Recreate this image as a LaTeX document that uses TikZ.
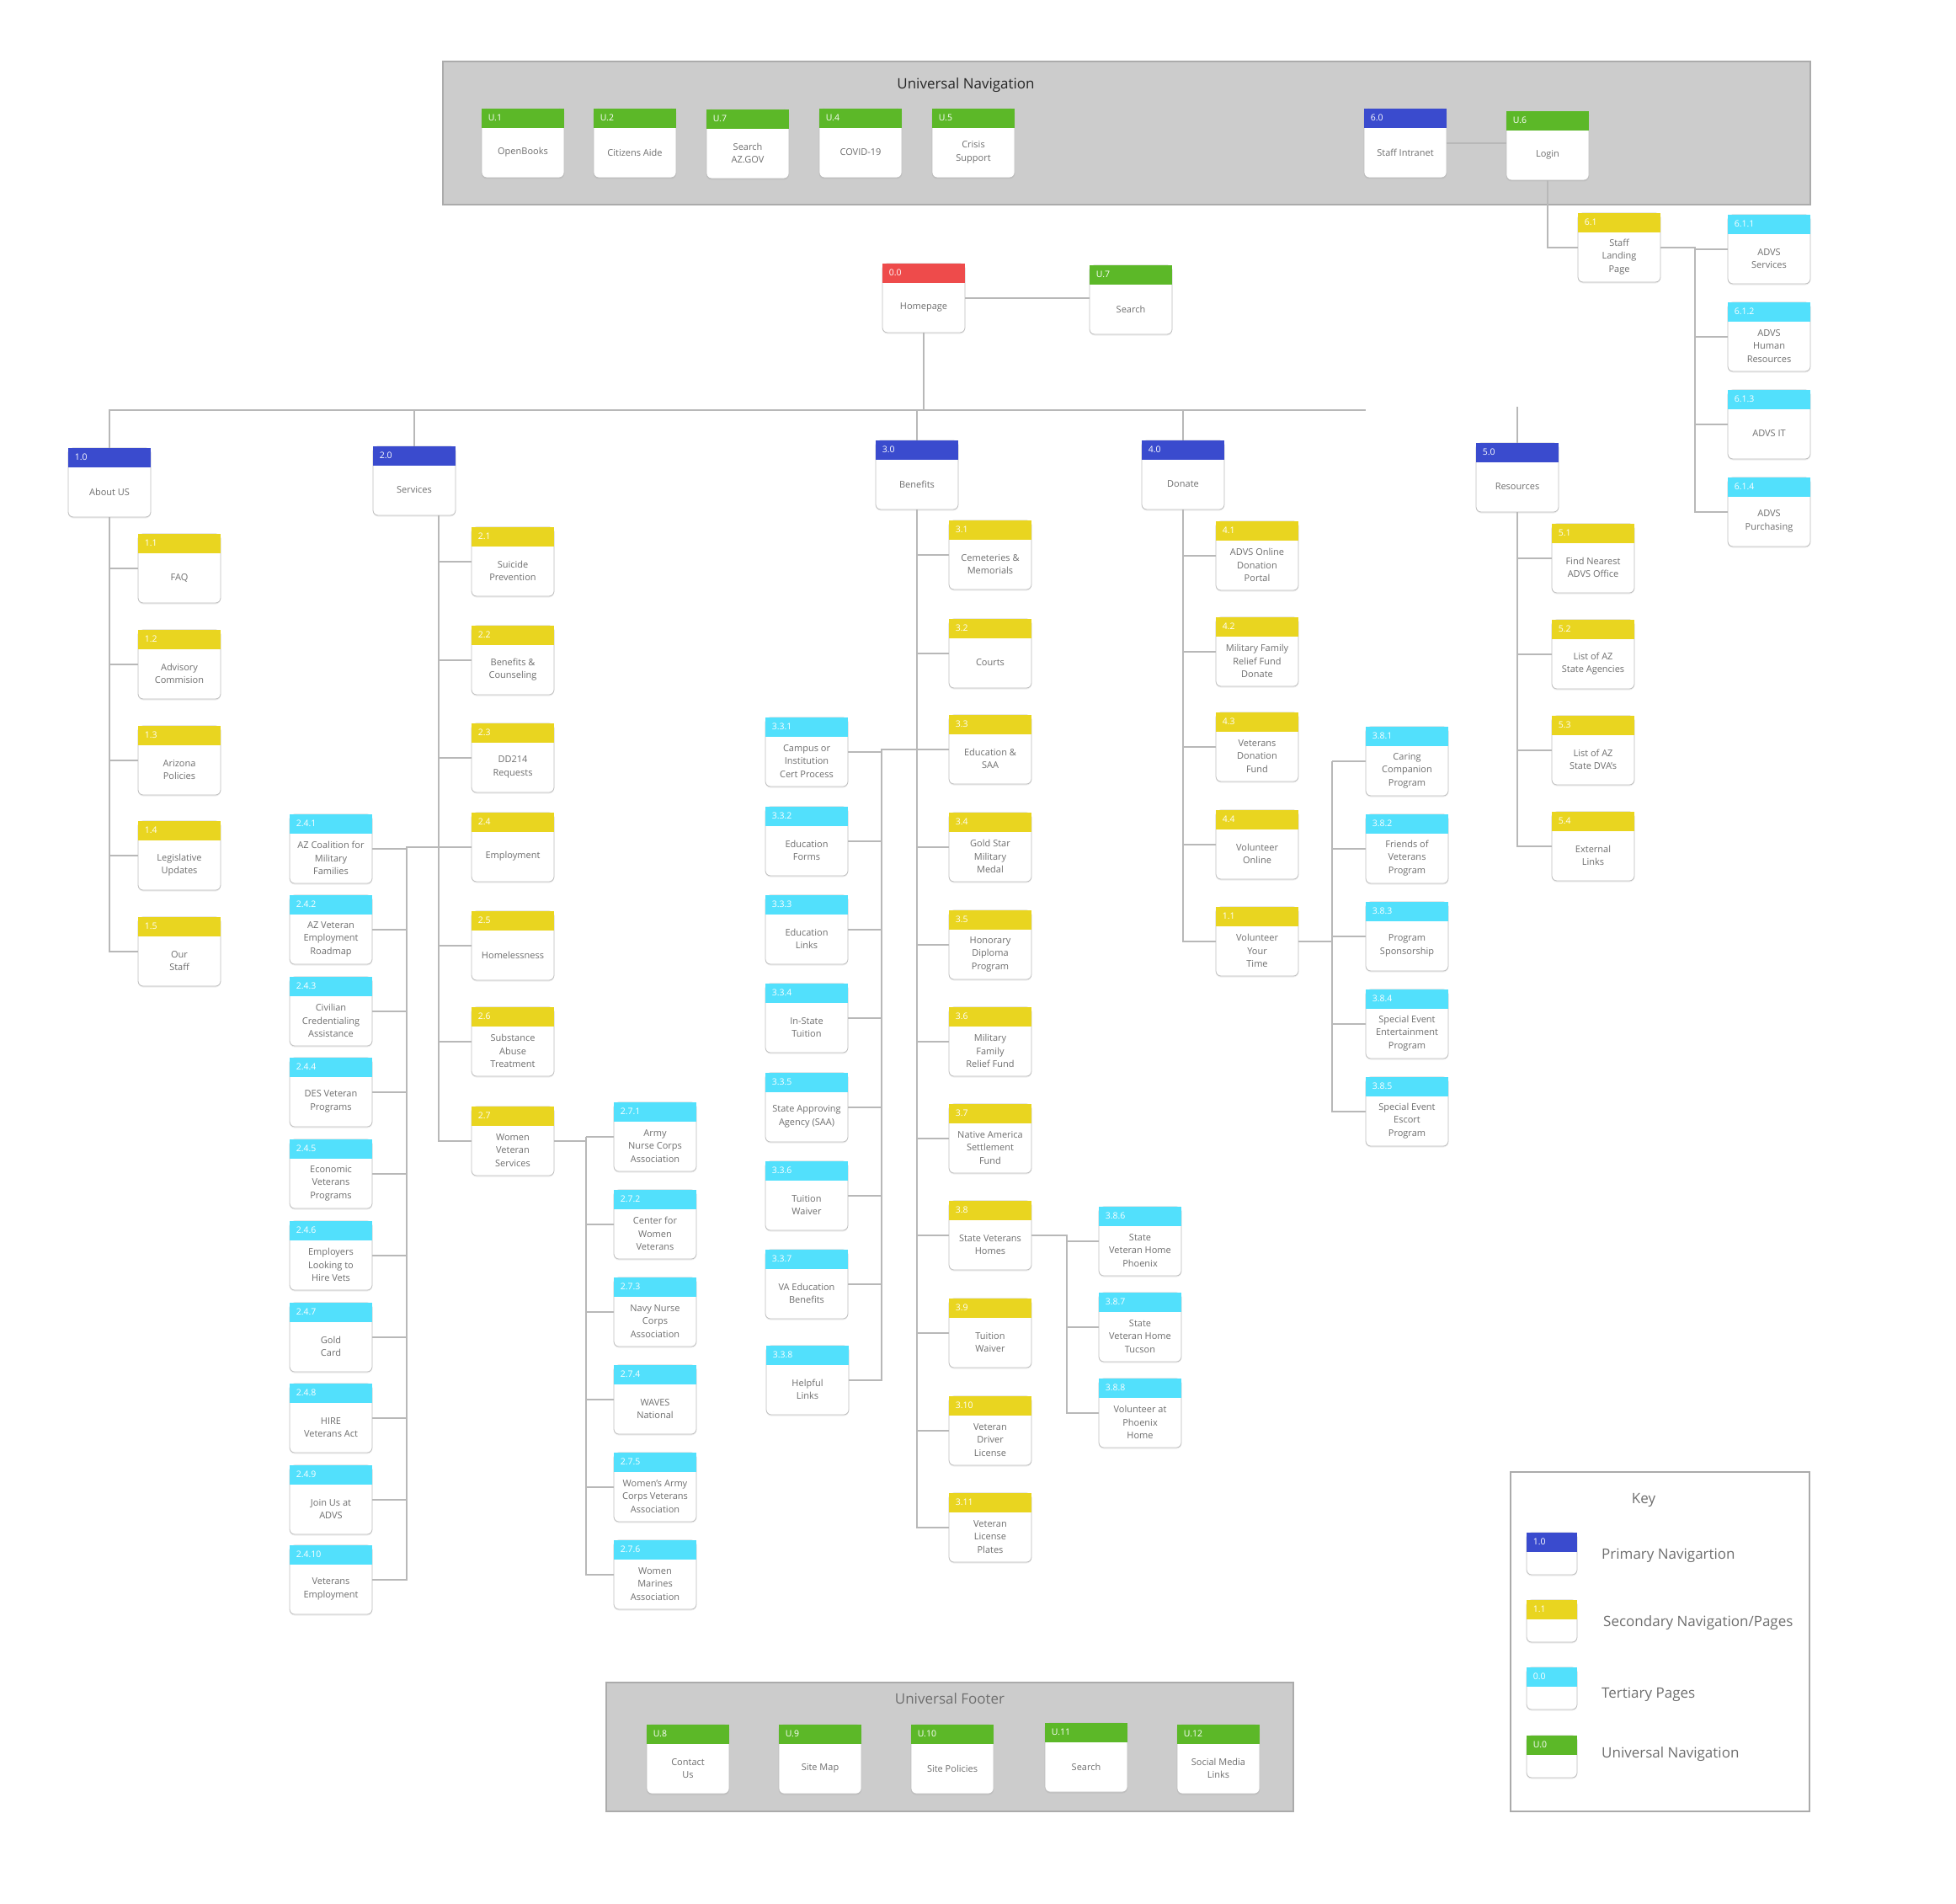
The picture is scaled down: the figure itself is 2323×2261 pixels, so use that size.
\documentclass[tikz,border=0pt]{standalone}
\usepackage{fontspec}
\setmainfont{Open Sans}
\usetikzlibrary{shadows}

\definecolor{navblue}{HTML}{3A4BCE}
\definecolor{secyellow}{HTML}{E9D520}
\definecolor{tercyan}{HTML}{52E0FC}
\definecolor{unigreen}{HTML}{5CB828}
\definecolor{homered}{HTML}{EE4B4B}
\definecolor{panelgray}{HTML}{CCCCCC}
\definecolor{panelline}{HTML}{ABABAB}
\definecolor{linkgray}{HTML}{B8B8B8}
\definecolor{boxline}{HTML}{BDBDBD}
\definecolor{textgray}{HTML}{6E6E6E}

\tikzset{
  pagebox/.style={rectangle, draw=boxline, line width=0.8pt, fill=white,
    minimum width=98pt, minimum height=82pt, inner sep=0pt, rounded corners=6pt,
    drop shadow={shadow xshift=0pt, shadow yshift=-1.5pt, opacity=0.15}},
  keybox/.style={pagebox, minimum width=60pt, minimum height=50pt},
  tagtext/.style={anchor=west, inner sep=0pt, text=white, font=\fontsize{10.5}{12}\selectfont},
  pagetext/.style={align=center, inner sep=0pt, text=textgray, font=\fontsize{11}{15.5}\selectfont},
  keylabel/.style={anchor=west, inner sep=0pt, text=textgray, font=\fontsize{17}{20}\selectfont},
  link/.style={draw=linkgray, line width=1.3pt},
  panel/.style={fill=panelgray, draw=panelline, line width=1.5pt},
}

% page box: name, left, top, colour, tag, text
\newcommand{\pg}[6]{%
  \node[pagebox] (#1) at (#2+49,#3+41) {};
  \fill[#4] (#1.north west) rectangle ([yshift=-23pt]#1.north east);
  \node[tagtext] at ([xshift=8pt,yshift=-11.5pt]#1.north west) {#5};
  \node[pagetext] at ([yshift=-11pt]#1.center) {#6};
}

\begin{document}
\begin{tikzpicture}[x=1pt, y=-1pt]
    \useasboundingbox (0,0) rectangle (2323,2261);
    % panels
    \filldraw[panel] (526,73) rectangle (2150,243);
    \filldraw[panel] (720,1998) rectangle (1536,2151);
    \draw[draw=panelline, line width=1.3pt] (1794,1748) rectangle (2149,2151);
    \node[font=\fontsize{17}{20}\selectfont, text=black!85] (navtitle) at (1147,101) {Universal Navigation};
    \node[font=\fontsize{17}{20}\selectfont, text=textgray] (foottitle) at (1128,2017) {Universal Footer};
    \node[font=\fontsize{17}{20}\selectfont, text=textgray] (keytitle) at (1952,1781) {Key};

    % universal navigation
    \pg{u1}{572}{129}{unigreen}{U.1}{OpenBooks}
    \pg{u2}{705}{129}{unigreen}{U.2}{Citizens Aide}
    \pg{u7}{839}{130}{unigreen}{U.7}{Search\\AZ.GOV}
    \pg{u4}{973}{129}{unigreen}{U.4}{COVID-19}
    \pg{u5}{1107}{129}{unigreen}{U.5}{Crisis\\Support}
    \pg{n60}{1620}{129}{navblue}{6.0}{Staff Intranet}
    \pg{u6}{1789}{132}{unigreen}{U.6}{Login}

    % staff
    \pg{n61}{1874}{253}{secyellow}{6.1}{Staff\\Landing\\Page}
    \pg{n611}{2052}{255}{tercyan}{6.1.1}{ADVS\\Services}
    \pg{n612}{2052}{359}{tercyan}{6.1.2}{ADVS\\Human\\Resources}
    \pg{n613}{2052}{463}{tercyan}{6.1.3}{ADVS IT}
    \pg{n614}{2052}{567}{tercyan}{6.1.4}{ADVS\\Purchasing}

    % homepage
    \pg{home}{1048}{313}{homered}{0.0}{Homepage}
    \pg{usearch}{1294}{315}{unigreen}{U.7}{Search}

    % about us
    \pg{n10}{81}{532}{navblue}{1.0}{About US}
    \pg{n11}{164}{634}{secyellow}{1.1}{FAQ}
    \pg{n12}{164}{748}{secyellow}{1.2}{Advisory\\Commision}
    \pg{n13}{164}{862}{secyellow}{1.3}{Arizona\\Policies}
    \pg{n14}{164}{975}{secyellow}{1.4}{Legislative\\Updates}
    \pg{n15}{164}{1089}{secyellow}{1.5}{Our\\Staff}

    % services
    \pg{n20}{443}{530}{navblue}{2.0}{Services}
    \pg{n21}{560}{626}{secyellow}{2.1}{Suicide\\Prevention}
    \pg{n22}{560}{743}{secyellow}{2.2}{Benefits \&\\Counseling}
    \pg{n23}{560}{859}{secyellow}{2.3}{DD214\\Requests}
    \pg{n24}{560}{965}{secyellow}{2.4}{Employment}
    \pg{n25}{560}{1082}{secyellow}{2.5}{Homelessness}
    \pg{n26}{560}{1196}{secyellow}{2.6}{Substance\\Abuse\\Treatment}
    \pg{n27}{560}{1314}{secyellow}{2.7}{Women\\Veteran\\Services}

    \pg{n241}{344}{967}{tercyan}{2.4.1}{AZ Coalition for\\Military\\Families}
    \pg{n242}{344}{1063}{tercyan}{2.4.2}{AZ Veteran\\Employment\\Roadmap}
    \pg{n243}{344}{1160}{tercyan}{2.4.3}{Civilian\\Credentialing\\Assistance}
    \pg{n244}{344}{1256}{tercyan}{2.4.4}{DES Veteran\\Programs}
    \pg{n245}{344}{1353}{tercyan}{2.4.5}{Economic\\Veterans\\Programs}
    \pg{n246}{344}{1450}{tercyan}{2.4.6}{Employers\\Looking to\\Hire Vets}
    \pg{n247}{344}{1547}{tercyan}{2.4.7}{Gold\\Card}
    \pg{n248}{344}{1643}{tercyan}{2.4.8}{HIRE\\Veterans Act}
    \pg{n249}{344}{1740}{tercyan}{2.4.9}{Join Us at\\ADVS}
    \pg{n2410}{344}{1835}{tercyan}{2.4.10}{Veterans\\Employment}

    \pg{n271}{729}{1309}{tercyan}{2.7.1}{Army\\Nurse Corps\\Association}
    \pg{n272}{729}{1413}{tercyan}{2.7.2}{Center for\\Women\\Veterans}
    \pg{n273}{729}{1517}{tercyan}{2.7.3}{Navy Nurse\\Corps\\Association}
    \pg{n274}{729}{1621}{tercyan}{2.7.4}{WAVES\\National}
    \pg{n275}{729}{1725}{tercyan}{2.7.5}{Women's Army\\Corps Veterans\\Association}
    \pg{n276}{729}{1829}{tercyan}{2.7.6}{Women\\Marines\\Association}

    % benefits
    \pg{n30}{1040}{523}{navblue}{3.0}{Benefits}
    \pg{n31}{1127}{618}{secyellow}{3.1}{Cemeteries \&\\Memorials}
    \pg{n32}{1127}{735}{secyellow}{3.2}{Courts}
    \pg{n33}{1127}{849}{secyellow}{3.3}{Education \&\\SAA}
    \pg{n34}{1127}{965}{secyellow}{3.4}{Gold Star\\Military\\Medal}
    \pg{n35}{1127}{1081}{secyellow}{3.5}{Honorary\\Diploma\\Program}
    \pg{n36}{1127}{1196}{secyellow}{3.6}{Military\\Family\\Relief Fund}
    \pg{n37}{1127}{1311}{secyellow}{3.7}{Native America\\Settlement\\Fund}
    \pg{n38}{1127}{1426}{secyellow}{3.8}{State Veterans\\Homes}
    \pg{n39}{1127}{1542}{secyellow}{3.9}{Tuition\\Waiver}
    \pg{n310}{1127}{1658}{secyellow}{3.10}{Veteran\\Driver\\License}
    \pg{n311}{1127}{1773}{secyellow}{3.11}{Veteran\\License\\Plates}

    \pg{n331}{909}{852}{tercyan}{3.3.1}{Campus or\\Institution\\Cert Process}
    \pg{n332}{909}{958}{tercyan}{3.3.2}{Education\\Forms}
    \pg{n333}{909}{1063}{tercyan}{3.3.3}{Education\\Links}
    \pg{n334}{909}{1168}{tercyan}{3.3.4}{In-State\\Tuition}
    \pg{n335}{909}{1274}{tercyan}{3.3.5}{State Approving\\Agency (SAA)}
    \pg{n336}{909}{1379}{tercyan}{3.3.6}{Tuition\\Waiver}
    \pg{n337}{909}{1484}{tercyan}{3.3.7}{VA Education\\Benefits}
    \pg{n338}{910}{1598}{tercyan}{3.3.8}{Helpful\\Links}

    \pg{n386}{1305}{1433}{tercyan}{3.8.6}{State\\Veteran Home\\Phoenix}
    \pg{n387}{1305}{1535}{tercyan}{3.8.7}{State\\Veteran Home\\Tucson}
    \pg{n388}{1305}{1637}{tercyan}{3.8.8}{Volunteer at\\Phoenix\\Home}

    % donate
    \pg{n40}{1356}{523}{navblue}{4.0}{Donate}
    \pg{n41}{1444}{619}{secyellow}{4.1}{ADVS Online\\Donation\\Portal}
    \pg{n42}{1444}{733}{secyellow}{4.2}{Military Family\\Relief Fund\\Donate}
    \pg{n43}{1444}{846}{secyellow}{4.3}{Veterans\\Donation\\Fund}
    \pg{n44}{1444}{962}{secyellow}{4.4}{Volunteer\\Online}
    \pg{v11}{1444}{1077}{secyellow}{1.1}{Volunteer\\Your\\Time}

    \pg{n381}{1622}{863}{tercyan}{3.8.1}{Caring\\Companion\\Program}
    \pg{n382}{1622}{967}{tercyan}{3.8.2}{Friends of\\Veterans\\Program}
    \pg{n383}{1622}{1071}{tercyan}{3.8.3}{Program\\Sponsorship}
    \pg{n384}{1622}{1175}{tercyan}{3.8.4}{Special Event\\Entertainment\\Program}
    \pg{n385}{1622}{1279}{tercyan}{3.8.5}{Special Event\\Escort\\Program}

    % resources
    \pg{n50}{1753}{526}{navblue}{5.0}{Resources}
    \pg{n51}{1843}{622}{secyellow}{5.1}{Find Nearest\\ADVS Office}
    \pg{n52}{1843}{736}{secyellow}{5.2}{List of AZ\\State Agencies}
    \pg{n53}{1843}{850}{secyellow}{5.3}{List of AZ\\State DVA's}
    \pg{n54}{1843}{964}{secyellow}{5.4}{External\\Links}

    % universal footer
    \pg{u8}{768}{2048}{unigreen}{U.8}{Contact\\Us}
    \pg{u9}{925}{2048}{unigreen}{U.9}{Site Map}
    \pg{u10}{1082}{2048}{unigreen}{U.10}{Site Policies}
    \pg{u11}{1241}{2046}{unigreen}{U.11}{Search}
    \pg{u12}{1398}{2048}{unigreen}{U.12}{Social Media\\Links}

    % key
    \node[keybox] (k1) at (1843,1845) {};
    \fill[navblue] (k1.north west) rectangle ([yshift=-23pt]k1.north east);
    \node[tagtext] at ([xshift=8pt,yshift=-11.5pt]k1.north west) {1.0};
    \node[keylabel] (k1t) at (1902,1847) {Primary Navigartion};
    \node[keybox] (k2) at (1843,1925) {};
    \fill[secyellow] (k2.north west) rectangle ([yshift=-23pt]k2.north east);
    \node[tagtext] at ([xshift=8pt,yshift=-11.5pt]k2.north west) {1.1};
    \node[keylabel] (k2t) at (1904,1927) {Secondary Navigation/Pages};
    \node[keybox] (k3) at (1843,2005) {};
    \fill[tercyan] (k3.north west) rectangle ([yshift=-23pt]k3.north east);
    \node[tagtext] at ([xshift=8pt,yshift=-11.5pt]k3.north west) {0.0};
    \node[keylabel] (k3t) at (1902,2012) {Tertiary Pages};
    \node[keybox] (k4) at (1843,2086) {};
    \fill[unigreen] (k4.north west) rectangle ([yshift=-23pt]k4.north east);
    \node[tagtext] at ([xshift=8pt,yshift=-11.5pt]k4.north west) {U.0};
    \node[keylabel] (k4t) at (1902,2083) {Universal Navigation};

    % connectors
    \coordinate (bar) at (1622,487);
    \coordinate (restop) at (1802,483);
    \coordinate (s2) at ([xshift=29pt]n20.south);
    \coordinate (j24) at (483,1010);
    \coordinate (j27) at (696,1350);
    \coordinate (j33) at (1047,890);
    \coordinate (j38) at (1267,1470);
    \coordinate (jv) at (1582,1100);
    \coordinate (j61) at (2013,300);

    \draw[link] (home.east) -- (home.east -| usearch.west);
    \draw[link] (n60.east) -- (n60.east -| u6.west);
    \draw[link] (u6.south) |- (n61.west);
    \draw[link] (n61.east) -- (n61.east -| j61) |- (n614.west);
    \draw[link] (n611.west -| j61) -- (n611.west);
    \draw[link] (n612.west -| j61) -- (n612.west);
    \draw[link] (n613.west -| j61) -- (n613.west);

    \draw[link] (n10.north) |- (bar);
    \draw[link] (home.south) -- (home.south |- bar);
    \draw[link] (n20.north) -- (n20.north |- bar);
    \draw[link] (n30.north) -- (n30.north |- bar);
    \draw[link] (n40.north) -- (n40.north |- bar);
    \draw[link] (n50.north) -- (restop);

    \draw[link] (n10.south) |- (n15.west);
    \draw[link] (n11.west -| n10.south) -- (n11.west);
    \draw[link] (n12.west -| n10.south) -- (n12.west);
    \draw[link] (n13.west -| n10.south) -- (n13.west);
    \draw[link] (n14.west -| n10.south) -- (n14.west);

    \draw[link] (s2) |- (n27.west);
    \draw[link] (n21.west -| s2) -- (n21.west);
    \draw[link] (n22.west -| s2) -- (n22.west);
    \draw[link] (n23.west -| s2) -- (n23.west);
    \draw[link] (n24.west -| s2) -- (n24.west);
    \draw[link] (n25.west -| s2) -- (n25.west);
    \draw[link] (n26.west -| s2) -- (n26.west);

    \draw[link] (n24.west) -- (n24.west -| j24) |- (n2410.east);
    \draw[link] (n241.east) -- (n241.east -| j24);
    \draw[link] (n242.east) -- (n242.east -| j24);
    \draw[link] (n243.east) -- (n243.east -| j24);
    \draw[link] (n244.east) -- (n244.east -| j24);
    \draw[link] (n245.east) -- (n245.east -| j24);
    \draw[link] (n246.east) -- (n246.east -| j24);
    \draw[link] (n247.east) -- (n247.east -| j24);
    \draw[link] (n248.east) -- (n248.east -| j24);
    \draw[link] (n249.east) -- (n249.east -| j24);

    \draw[link] (n27.east) -- (n27.east -| j27);
    \draw[link] (n271.west -| j27) |- (n276.west);
    \draw[link] (n271.west -| j27) -- (n271.west);
    \draw[link] (n272.west -| j27) -- (n272.west);
    \draw[link] (n273.west -| j27) -- (n273.west);
    \draw[link] (n274.west -| j27) -- (n274.west);
    \draw[link] (n275.west -| j27) -- (n275.west);

    \draw[link] (n30.south) |- (n311.west);
    \draw[link] (n31.west -| n30.south) -- (n31.west);
    \draw[link] (n32.west -| n30.south) -- (n32.west);
    \draw[link] (n33.west -| n30.south) -- (n33.west);
    \draw[link] (n34.west -| n30.south) -- (n34.west);
    \draw[link] (n35.west -| n30.south) -- (n35.west);
    \draw[link] (n36.west -| n30.south) -- (n36.west);
    \draw[link] (n37.west -| n30.south) -- (n37.west);
    \draw[link] (n38.west -| n30.south) -- (n38.west);
    \draw[link] (n39.west -| n30.south) -- (n39.west);
    \draw[link] (n310.west -| n30.south) -- (n310.west);

    \draw[link] (n33.west) -- (n33.west -| j33) |- (n338.east);
    \draw[link] (n331.east) -- (n331.east -| j33);
    \draw[link] (n332.east) -- (n332.east -| j33);
    \draw[link] (n333.east) -- (n333.east -| j33);
    \draw[link] (n334.east) -- (n334.east -| j33);
    \draw[link] (n335.east) -- (n335.east -| j33);
    \draw[link] (n336.east) -- (n336.east -| j33);
    \draw[link] (n337.east) -- (n337.east -| j33);

    \draw[link] (n38.east) -- (n38.east -| j38) |- (n388.west);
    \draw[link] (n386.west -| j38) -- (n386.west);
    \draw[link] (n387.west -| j38) -- (n387.west);

    \draw[link] (n40.south) |- (v11.west);
    \draw[link] (n41.west -| n40.south) -- (n41.west);
    \draw[link] (n42.west -| n40.south) -- (n42.west);
    \draw[link] (n43.west -| n40.south) -- (n43.west);
    \draw[link] (n44.west -| n40.south) -- (n44.west);

    \draw[link] (v11.east) -- (v11.east -| jv);
    \draw[link] (n381.west -| jv) |- (n385.west);
    \draw[link] (n381.west -| jv) -- (n381.west);
    \draw[link] (n382.west -| jv) -- (n382.west);
    \draw[link] (n383.west -| jv) -- (n383.west);
    \draw[link] (n384.west -| jv) -- (n384.west);

    \draw[link] (n50.south) |- (n54.west);
    \draw[link] (n51.west -| n50.south) -- (n51.west);
    \draw[link] (n52.west -| n50.south) -- (n52.west);
    \draw[link] (n53.west -| n50.south) -- (n53.west);
\end{tikzpicture}
\end{document}
